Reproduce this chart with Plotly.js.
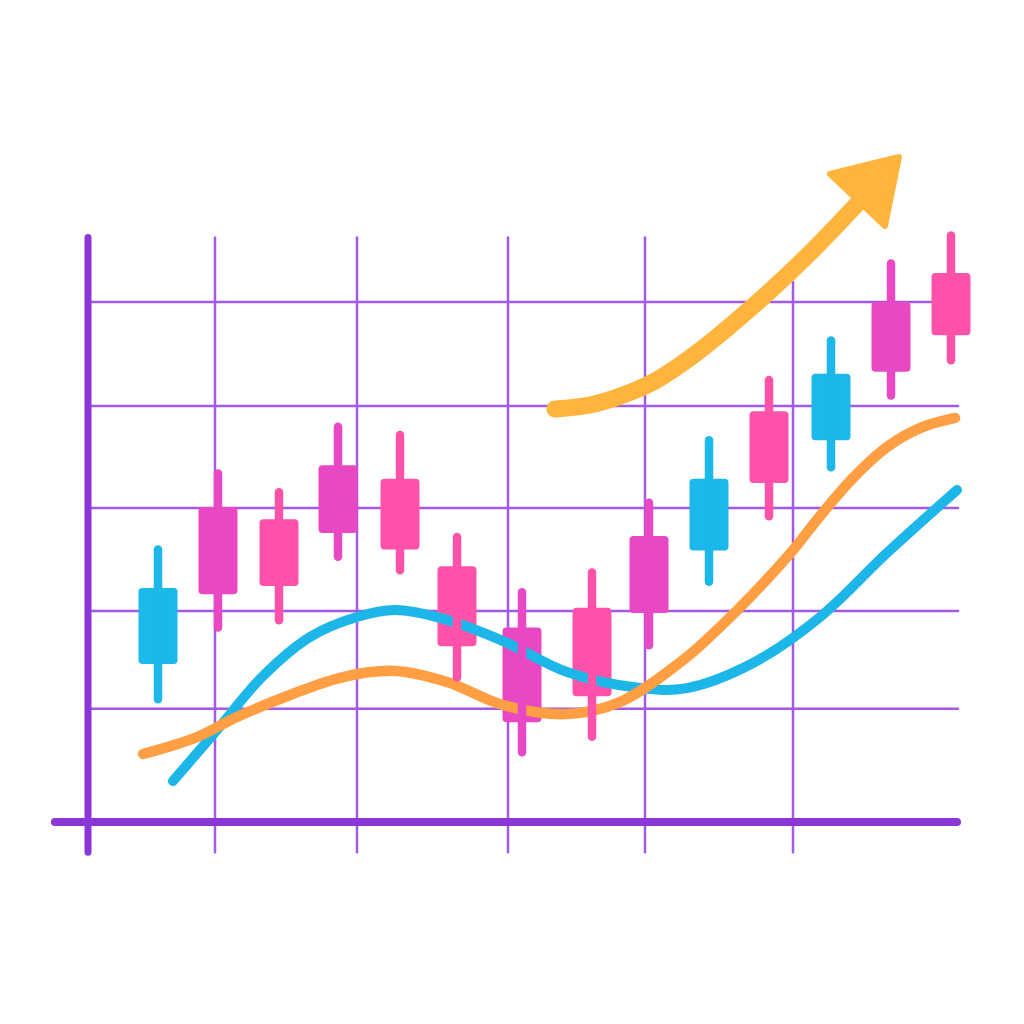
<!DOCTYPE html>
<html><head><meta charset="utf-8">
<script src="https://cdn.plot.ly/plotly-3.0.1.min.js"></script>
<style>
html,body{margin:0;padding:0;background:#fff;}
#chart{width:1024px;height:1024px;}
#chart .js-line{stroke-linecap:round !important;stroke-linejoin:round !important;}
#chart .shapelayer path{stroke-linecap:round !important;}
#chart .js-fill{stroke-linejoin:round !important;}
</style></head><body><div id="chart"></div>
<script>
// ---- data ----
const days  = [15.8, 21.8, 27.9, 33.8, 40.0, 45.7, 52.2, 59.2, 64.9, 70.9, 76.9, 83.1, 89.1, 95.1];
const open  = [15.2, 30.3, 29.1, 34.3, 33.0, 24.6, 18.7, 20.6, 27.5, 26.1, 39.5, 36.7, 50.0, 52.8];
const close = [22.5, 21.9, 22.7, 27.8, 26.2, 16.9,  9.6, 12.1, 20.1, 33.0, 32.6, 43.1, 43.3, 46.8];
const high  = [26.2, 33.5, 31.7, 38.0, 37.2, 27.4, 22.1, 24.0, 30.7, 36.7, 42.5, 46.3, 53.7, 56.4];
const low   = [11.8, 18.7, 19.4, 25.5, 24.2, 13.9,  6.7,  8.2, 17.0, 23.1, 29.4, 34.1, 41.0, 44.4];
const candleTone = ['cyan','magenta','pink','magenta','pink','pink','magenta','pink','magenta','cyan','pink','cyan','magenta','pink'];

const blueX = [17.3, 21.7, 26.3, 31.0, 35.7, 39.5, 44.0, 50.3, 56.7, 64.0, 68.7, 75.3, 82.0, 88.7, 95.7];
const blueY = [3.94, 8.85, 14.04, 17.79, 19.71, 20.38, 19.62, 17.40, 14.42, 12.88, 12.88, 15.29, 19.71, 25.87, 31.92];

const orangeX = [14.3, 19.7, 23.7, 29.0, 34.3, 39.5, 44.7, 50.3, 56.7, 62.0, 68.7, 72.0, 75.3, 79.3, 82.0, 85.3, 88.7, 92.0, 95.5];
const orangeY = [6.54, 8.17, 10.10, 12.21, 13.94, 14.52, 13.46, 11.25, 10.38, 11.54, 15.87, 18.75, 21.92, 26.15, 29.42, 33.08, 36.06, 37.88, 38.85];

const trendX = [55.5, 59.0, 62.2, 65.5, 69.0, 73.0, 77.0, 81.2, 85.8];
const trendY = [39.71, 40.10, 41.01, 42.40, 44.62, 47.69, 51.06, 54.90, 59.52];
const headX = [83.0, 89.9, 88.5];
const headY = [62.31, 63.94, 57.31];

const gridX = [21.5, 35.7, 50.8, 64.5, 79.3];
const gridY = [10.9, 20.3, 30.2, 40.0, 50.0];

// ---- geometry / styles ----
const gridXTop = [56.2, 56.2, 56.2, 56.2, 51.9];
const axisXStart = 5.5, axisXEnd = 95.7, axisYBottom = -2.9, axisYTop = 56.2, axisYPos = 8.8, gridXEnd = 95.8;
const toneColor = {cyan:'#1BB8E9', magenta:'#E948C4', pink:'#FF52A8'};
const gridColor = '#A259E6', axisColor = '#8B36D6', arrowColor = '#FFB43E';

const traces = [];
// moving average lines
traces.push({type:'scatter', mode:'lines', x:blueX, y:blueY, line:{color:'#1CB6E8', width:10, shape:'spline', smoothing:1}, hoverinfo:'skip'});
traces.push({type:'scatter', mode:'lines', x:orangeX, y:orangeY, line:{color:'#FF9E42', width:10.5, shape:'spline', smoothing:1}, hoverinfo:'skip'});

// wicks grouped by tone
Object.keys(toneColor).forEach(t => {
  const wx = [], wy = [];
  days.forEach((d, i) => {
    if (candleTone[i] === t) { wx.push(d, d, null); wy.push(low[i], high[i], null); }
  });
  traces.push({type:'scatter', mode:'lines', x:wx, y:wy, line:{color:toneColor[t], width:8.5}, hoverinfo:'skip'});
});

// bodies
traces.push({
  type:'bar', x:days,
  base: open.map((o, i) => Math.min(o, close[i])),
  y: open.map((o, i) => Math.abs(close[i] - o)),
  width: 3.9,
  marker:{color: candleTone.map(t => toneColor[t]), cornerradius:4, line:{width:0}},
  hoverinfo:'skip'
});

// trend arrow
traces.push({type:'scatter', mode:'lines', x:trendX, y:trendY, line:{color:arrowColor, width:17, shape:'spline', smoothing:1}, hoverinfo:'skip'});
traces.push({type:'scatter', mode:'lines', x:headX.concat([headX[0]]), y:headY.concat([headY[0]]), fill:'toself', fillcolor:arrowColor, line:{color:arrowColor, width:6}, hoverinfo:'skip'});

const shapes = [];
gridX.forEach((gx, i) => shapes.push({type:'line', xref:'x', yref:'y', x0:gx, x1:gx, y0:axisYBottom, y1:gridXTop[i], line:{color:gridColor, width:2.5}, layer:'below'}));
gridY.forEach(gy => shapes.push({type:'line', xref:'x', yref:'y', x0:axisYPos, x1:gridXEnd, y0:gy, y1:gy, line:{color:gridColor, width:2.5}, layer:'below'}));
shapes.push({type:'line', xref:'x', yref:'y', x0:axisYPos, x1:axisYPos, y0:axisYBottom, y1:axisYTop, line:{color:axisColor, width:7}, layer:'below'});
shapes.push({type:'line', xref:'x', yref:'y', x0:axisXStart, x1:axisXEnd, y0:0, y1:0, line:{color:axisColor, width:8}, layer:'below'});

const layout = {
  width:1024, height:1024,
  margin:{l:0, r:0, t:0, b:0, pad:0},
  paper_bgcolor:'#ffffff', plot_bgcolor:'#ffffff',
  showlegend:false, barmode:'overlay',
  xaxis:{range:[0, 102.4], visible:false, fixedrange:true},
  yaxis:{range:[-19.423, 79.038], visible:false, fixedrange:true},
  shapes: shapes
};
Plotly.newPlot('chart', traces, layout, {staticPlot:true, displayModeBar:false});
</script></body></html>
